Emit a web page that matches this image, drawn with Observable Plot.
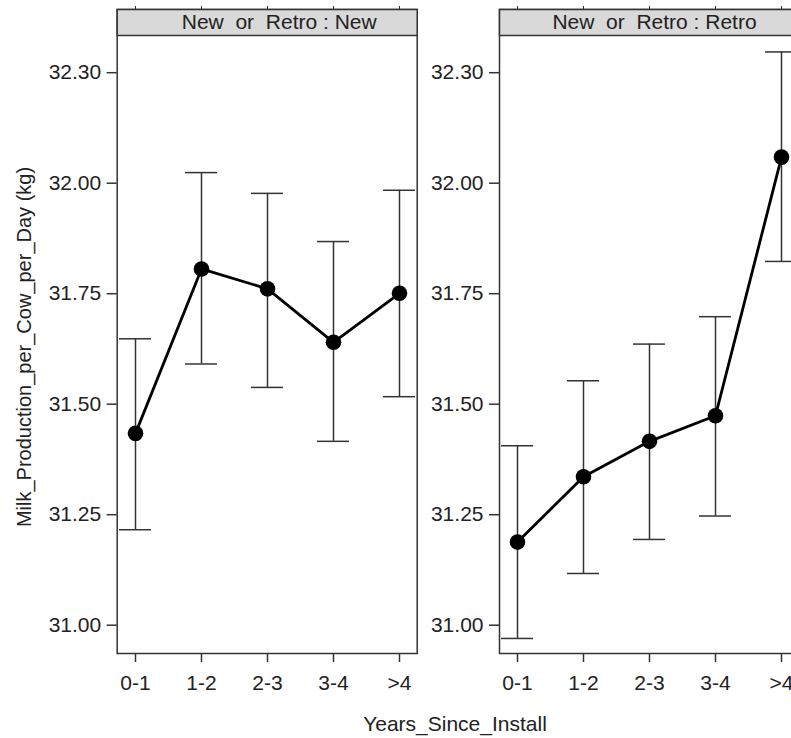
<!DOCTYPE html>
<html>
<head>
<meta charset="utf-8">
<script src="https://cdn.jsdelivr.net/npm/d3@7"></script>
<script src="https://cdn.jsdelivr.net/npm/@observablehq/plot@0.6"></script>
<style>
  html, body { margin: 0; padding: 0; background: #fff; }
  #chart { position: relative; width: 791px; height: 738px; overflow: hidden; background: #fff;
           font-family: "Liberation Sans", Arial, sans-serif; color: #222; }
  .panel { position: absolute; top: 0; }
  .panel svg { max-width: none !important; display: block; }
  .panel svg text { white-space: pre; }
  .lab { position: absolute; white-space: nowrap; color: #222; }
</style>
</head>
<body>
<div id="chart"></div>
<script>
// ---- data ----
const categories = ["0-1", "1-2", "2-3", "3-4", ">4"];
const stripLabels = ["New  or  Retro : New", "New  or  Retro : Retro"];

const newMean  = [31.434, 31.806, 31.761, 31.640, 31.751];
const newLower = [31.216, 31.591, 31.538, 31.416, 31.517];
const newUpper = [31.648, 32.024, 31.977, 31.868, 31.984];

const retroMean  = [31.188, 31.336, 31.416, 31.474, 32.059];
const retroLower = [30.970, 31.117, 31.194, 31.247, 31.823];
const retroUpper = [31.406, 31.553, 31.636, 31.698, 32.297];

const yTickValues = [31, 31.25, 31.5, 31.75, 32, 32.25];
const yTickLabels = ["31.00", "31.25", "31.50", "31.75", "32.00", "32.30"];

const xTitle = "Years_Since_Install";
const yTitle = "Milk_Production_per_Cow_per_Day (kg)";

// ---- layout ----
const panels = [
  {strip: stripLabels[0], mean: newMean, lo: newLower, hi: newUpper,
   left: 0, width: 430, marginLeft: 116.7, marginRight: 13.3, stripDx: 12},
  {strip: stripLabels[1], mean: retroMean, lo: retroLower, hi: retroUpper,
   left: 420, width: 400, marginLeft: 79, marginRight: 21, stripDx: 5}
];

const H = 738, mTop = 9, mBottom = 85, stripH = 26, fs = 21;
const chart = document.getElementById("chart");

for (const p of panels) {
  const data = categories.map((c, i) => ({cat: c, mean: p.mean[i], lo: p.lo[i], hi: p.hi[i]}));
  const plot = Plot.plot({
    width: p.width,
    height: H,
    marginTop: mTop,
    marginBottom: mBottom,
    marginLeft: p.marginLeft,
    marginRight: p.marginRight,
    style: {fontFamily: '"Liberation Sans", Arial, sans-serif', fontSize: fs + "px", color: "#222", background: "transparent", overflow: "visible"},
    x: {type: "point", domain: categories, padding: 0.27},
    y: {domain: [31, 32.25], range: [624.7, 72.2]},
    marks: [
      Plot.frame({stroke: "#333", strokeWidth: 1.5}),
      Plot.frame({fill: "#d9d9d9", stroke: "#333", strokeWidth: 1.5, insetBottom: H - mTop - mBottom - stripH}),
      Plot.text([p.strip], {text: d => d, frameAnchor: "top", lineAnchor: "middle", dy: stripH / 2, dx: p.stripDx, fontSize: fs, fill: "#222"}),
      Plot.axisX({anchor: "top", tickSize: 4, tickFormat: () => "", label: null, stroke: "#333"}),
      Plot.axisX({anchor: "bottom", tickSize: 9, tickPadding: 13, label: null, fontSize: fs, stroke: "#333", strokeWidth: 1.5}),
      Plot.axisY({ticks: yTickValues, tickFormat: d => yTickLabels[yTickValues.indexOf(d)], tickSize: 10, tickPadding: 6, label: null, fontSize: fs, stroke: "#333", strokeWidth: 1.5}),
      Plot.ruleX(data, {x: "cat", y1: "lo", y2: "hi", stroke: "#333", strokeWidth: 1.5}),
      Plot.ruleY(data, {y: "hi", x1: "cat", x2: "cat", insetLeft: -16, insetRight: -16, stroke: "#333", strokeWidth: 1.5}),
      Plot.ruleY(data, {y: "lo", x1: "cat", x2: "cat", insetLeft: -16, insetRight: -16, stroke: "#333", strokeWidth: 1.5}),
      Plot.line(data, {x: "cat", y: "mean", stroke: "#000", strokeWidth: 2.8}),
      Plot.dot(data, {x: "cat", y: "mean", r: 7.8, fill: "#000", stroke: "none"})
    ]
  });
  const div = document.createElement("div");
  div.className = "panel";
  div.style.left = p.left + "px";
  div.style.width = p.width + "px";
  div.appendChild(plot);
  chart.appendChild(div);
}

const xl = document.createElement("div");
xl.className = "lab";
xl.textContent = xTitle;
xl.style.fontSize = "21px";
xl.style.left = "455px";
xl.style.top = "724px";
xl.style.transform = "translate(-50%, -50%)";
chart.appendChild(xl);

const yl = document.createElement("div");
yl.className = "lab";
yl.textContent = yTitle;
yl.style.fontSize = "20px";
yl.style.left = "24px";
yl.style.top = "347px";
yl.style.transform = "translate(-50%, -50%) rotate(-90deg)";
chart.appendChild(yl);
</script>
</body>
</html>
